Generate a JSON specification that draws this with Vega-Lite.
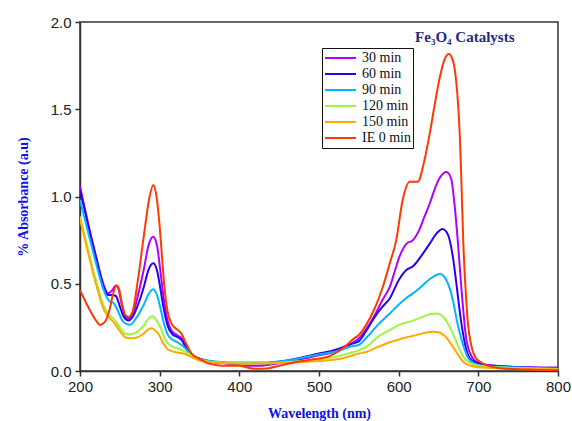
{
  "$schema": "https://vega.github.io/schema/vega-lite/v6.json",
  "autosize": {"type": "none"},
  "padding": {"left": 80, "top": 22, "right": 14, "bottom": 50},
  "width": 478,
  "height": 349,
  "background": "white",
  "config": {
    "view": {"stroke": "#333333", "strokeWidth": 1.5},
    "axis": {"grid": false, "labelFlush": false, "labelOverlap": false, "domainColor": "#333333", "domainWidth": 1.5, "tickColor": "#333333", "tickWidth": 1.5, "tickSize": 5, "labelFont": "Liberation Sans", "labelFontSize": 15, "labelColor": "#222222", "titleFont": "Liberation Serif", "titleFontWeight": "bold", "titleFontSize": 14, "titleColor": "#1010ee"}
  },
  "datasets": {
    "spectra": [
      {"s":"30 min","x":200,"y":1.056},{"s":"30 min","x":210,"y":0.85},{"s":"30 min","x":220,"y":0.66},{"s":"30 min","x":230,"y":0.49},{"s":"30 min","x":235,"y":0.445},{"s":"30 min","x":240,"y":0.46},{"s":"30 min","x":245,"y":0.49},{"s":"30 min","x":248,"y":0.475},{"s":"30 min","x":252,"y":0.39},{"s":"30 min","x":256,"y":0.32},{"s":"30 min","x":261,"y":0.30},{"s":"30 min","x":266,"y":0.32},{"s":"30 min","x":272,"y":0.42},{"s":"30 min","x":280,"y":0.58},{"s":"30 min","x":286,"y":0.72},{"s":"30 min","x":292,"y":0.77},{"s":"30 min","x":297,"y":0.71},{"s":"30 min","x":301,"y":0.57},{"s":"30 min","x":305,"y":0.42},{"s":"30 min","x":310,"y":0.29},{"s":"30 min","x":315,"y":0.23},{"s":"30 min","x":322,"y":0.205},{"s":"30 min","x":328,"y":0.185},{"s":"30 min","x":334,"y":0.13},{"s":"30 min","x":340,"y":0.095},{"s":"30 min","x":350,"y":0.07},{"s":"30 min","x":370,"y":0.05},{"s":"30 min","x":390,"y":0.04},{"s":"30 min","x":410,"y":0.03},{"s":"30 min","x":425,"y":0.03},{"s":"30 min","x":450,"y":0.045},{"s":"30 min","x":475,"y":0.065},{"s":"30 min","x":500,"y":0.09},{"s":"30 min","x":520,"y":0.11},{"s":"30 min","x":540,"y":0.155},{"s":"30 min","x":550,"y":0.186},{"s":"30 min","x":560,"y":0.245},{"s":"30 min","x":570,"y":0.32},{"s":"30 min","x":580,"y":0.41},{"s":"30 min","x":589,"y":0.483},{"s":"30 min","x":595,"y":0.57},{"s":"30 min","x":601,"y":0.655},{"s":"30 min","x":610,"y":0.73},{"s":"30 min","x":618,"y":0.75},{"s":"30 min","x":625,"y":0.8},{"s":"30 min","x":632,"y":0.88},{"s":"30 min","x":639,"y":0.96},{"s":"30 min","x":645,"y":1.04},{"s":"30 min","x":652,"y":1.11},{"s":"30 min","x":660,"y":1.14},{"s":"30 min","x":666,"y":1.1},{"s":"30 min","x":670,"y":0.96},{"s":"30 min","x":675,"y":0.7},{"s":"30 min","x":679,"y":0.46},{"s":"30 min","x":685,"y":0.18},{"s":"30 min","x":692,"y":0.08},{"s":"30 min","x":698,"y":0.053},{"s":"30 min","x":710,"y":0.035},{"s":"30 min","x":740,"y":0.025},{"s":"30 min","x":800,"y":0.018},

      {"s":"60 min","x":200,"y":1.04},{"s":"60 min","x":210,"y":0.84},{"s":"60 min","x":220,"y":0.65},{"s":"60 min","x":230,"y":0.48},{"s":"60 min","x":235,"y":0.435},{"s":"60 min","x":240,"y":0.435},{"s":"60 min","x":245,"y":0.43},{"s":"60 min","x":250,"y":0.37},{"s":"60 min","x":255,"y":0.31},{"s":"60 min","x":261,"y":0.29},{"s":"60 min","x":266,"y":0.31},{"s":"60 min","x":272,"y":0.37},{"s":"60 min","x":280,"y":0.48},{"s":"60 min","x":286,"y":0.58},{"s":"60 min","x":292,"y":0.617},{"s":"60 min","x":297,"y":0.57},{"s":"60 min","x":301,"y":0.47},{"s":"60 min","x":305,"y":0.36},{"s":"60 min","x":310,"y":0.26},{"s":"60 min","x":316,"y":0.21},{"s":"60 min","x":322,"y":0.195},{"s":"60 min","x":328,"y":0.175},{"s":"60 min","x":334,"y":0.125},{"s":"60 min","x":340,"y":0.09},{"s":"60 min","x":350,"y":0.07},{"s":"60 min","x":370,"y":0.05},{"s":"60 min","x":400,"y":0.045},{"s":"60 min","x":430,"y":0.045},{"s":"60 min","x":460,"y":0.06},{"s":"60 min","x":500,"y":0.1},{"s":"60 min","x":520,"y":0.12},{"s":"60 min","x":540,"y":0.155},{"s":"60 min","x":550,"y":0.17},{"s":"60 min","x":560,"y":0.235},{"s":"60 min","x":570,"y":0.31},{"s":"60 min","x":580,"y":0.37},{"s":"60 min","x":589,"y":0.417},{"s":"60 min","x":600,"y":0.52},{"s":"60 min","x":610,"y":0.58},{"s":"60 min","x":618,"y":0.6},{"s":"60 min","x":630,"y":0.67},{"s":"60 min","x":639,"y":0.73},{"s":"60 min","x":648,"y":0.79},{"s":"60 min","x":655,"y":0.814},{"s":"60 min","x":662,"y":0.78},{"s":"60 min","x":668,"y":0.655},{"s":"60 min","x":673,"y":0.48},{"s":"60 min","x":677,"y":0.33},{"s":"60 min","x":685,"y":0.12},{"s":"60 min","x":692,"y":0.06},{"s":"60 min","x":710,"y":0.035},{"s":"60 min","x":740,"y":0.025},{"s":"60 min","x":800,"y":0.018},

      {"s":"90 min","x":200,"y":0.98},{"s":"90 min","x":210,"y":0.8},{"s":"90 min","x":220,"y":0.62},{"s":"90 min","x":230,"y":0.46},{"s":"90 min","x":237,"y":0.4},{"s":"90 min","x":242,"y":0.39},{"s":"90 min","x":247,"y":0.35},{"s":"90 min","x":253,"y":0.29},{"s":"90 min","x":258,"y":0.27},{"s":"90 min","x":263,"y":0.265},{"s":"90 min","x":270,"y":0.30},{"s":"90 min","x":280,"y":0.38},{"s":"90 min","x":286,"y":0.44},{"s":"90 min","x":292,"y":0.468},{"s":"90 min","x":297,"y":0.43},{"s":"90 min","x":301,"y":0.36},{"s":"90 min","x":305,"y":0.28},{"s":"90 min","x":310,"y":0.21},{"s":"90 min","x":316,"y":0.18},{"s":"90 min","x":322,"y":0.165},{"s":"90 min","x":330,"y":0.14},{"s":"90 min","x":340,"y":0.09},{"s":"90 min","x":350,"y":0.07},{"s":"90 min","x":370,"y":0.055},{"s":"90 min","x":400,"y":0.048},{"s":"90 min","x":430,"y":0.048},{"s":"90 min","x":460,"y":0.06},{"s":"90 min","x":500,"y":0.095},{"s":"90 min","x":520,"y":0.11},{"s":"90 min","x":540,"y":0.14},{"s":"90 min","x":550,"y":0.149},{"s":"90 min","x":560,"y":0.193},{"s":"90 min","x":575,"y":0.27},{"s":"90 min","x":589,"y":0.33},{"s":"90 min","x":600,"y":0.38},{"s":"90 min","x":610,"y":0.42},{"s":"90 min","x":618,"y":0.445},{"s":"90 min","x":630,"y":0.49},{"s":"90 min","x":640,"y":0.53},{"s":"90 min","x":652,"y":0.556},{"s":"90 min","x":660,"y":0.52},{"s":"90 min","x":668,"y":0.407},{"s":"90 min","x":673,"y":0.29},{"s":"90 min","x":679,"y":0.178},{"s":"90 min","x":689,"y":0.063},{"s":"90 min","x":700,"y":0.035},{"s":"90 min","x":720,"y":0.025},{"s":"90 min","x":800,"y":0.015},

      {"s":"120 min","x":200,"y":0.885},{"s":"120 min","x":210,"y":0.7},{"s":"120 min","x":220,"y":0.52},{"s":"120 min","x":230,"y":0.37},{"s":"120 min","x":236,"y":0.325},{"s":"120 min","x":242,"y":0.3},{"s":"120 min","x":250,"y":0.25},{"s":"120 min","x":256,"y":0.215},{"s":"120 min","x":262,"y":0.21},{"s":"120 min","x":270,"y":0.22},{"s":"120 min","x":280,"y":0.26},{"s":"120 min","x":286,"y":0.3},{"s":"120 min","x":291,"y":0.315},{"s":"120 min","x":296,"y":0.29},{"s":"120 min","x":301,"y":0.25},{"s":"120 min","x":305,"y":0.2},{"s":"120 min","x":310,"y":0.16},{"s":"120 min","x":316,"y":0.14},{"s":"120 min","x":322,"y":0.13},{"s":"120 min","x":330,"y":0.115},{"s":"120 min","x":340,"y":0.09},{"s":"120 min","x":350,"y":0.065},{"s":"120 min","x":370,"y":0.05},{"s":"120 min","x":400,"y":0.045},{"s":"120 min","x":440,"y":0.045},{"s":"120 min","x":470,"y":0.055},{"s":"120 min","x":500,"y":0.067},{"s":"120 min","x":530,"y":0.092},{"s":"120 min","x":550,"y":0.12},{"s":"120 min","x":560,"y":0.14},{"s":"120 min","x":575,"y":0.2},{"s":"120 min","x":589,"y":0.235},{"s":"120 min","x":600,"y":0.264},{"s":"120 min","x":614,"y":0.283},{"s":"120 min","x":625,"y":0.3},{"s":"120 min","x":640,"y":0.327},{"s":"120 min","x":648,"y":0.33},{"s":"120 min","x":655,"y":0.315},{"s":"120 min","x":662,"y":0.27},{"s":"120 min","x":668,"y":0.216},{"s":"120 min","x":675,"y":0.14},{"s":"120 min","x":681,"y":0.082},{"s":"120 min","x":690,"y":0.045},{"s":"120 min","x":710,"y":0.025},{"s":"120 min","x":800,"y":0.012},

      {"s":"150 min","x":200,"y":0.87},{"s":"150 min","x":210,"y":0.68},{"s":"150 min","x":220,"y":0.5},{"s":"150 min","x":230,"y":0.35},{"s":"150 min","x":236,"y":0.31},{"s":"150 min","x":242,"y":0.28},{"s":"150 min","x":250,"y":0.23},{"s":"150 min","x":258,"y":0.19},{"s":"150 min","x":264,"y":0.187},{"s":"150 min","x":270,"y":0.19},{"s":"150 min","x":280,"y":0.215},{"s":"150 min","x":286,"y":0.24},{"s":"150 min","x":290,"y":0.245},{"s":"150 min","x":295,"y":0.23},{"s":"150 min","x":300,"y":0.2},{"s":"150 min","x":305,"y":0.155},{"s":"150 min","x":310,"y":0.125},{"s":"150 min","x":318,"y":0.11},{"s":"150 min","x":330,"y":0.1},{"s":"150 min","x":340,"y":0.08},{"s":"150 min","x":350,"y":0.06},{"s":"150 min","x":370,"y":0.05},{"s":"150 min","x":400,"y":0.042},{"s":"150 min","x":440,"y":0.045},{"s":"150 min","x":470,"y":0.05},{"s":"150 min","x":500,"y":0.057},{"s":"150 min","x":530,"y":0.073},{"s":"150 min","x":550,"y":0.1},{"s":"150 min","x":560,"y":0.11},{"s":"150 min","x":575,"y":0.14},{"s":"150 min","x":589,"y":0.165},{"s":"150 min","x":600,"y":0.18},{"s":"150 min","x":614,"y":0.197},{"s":"150 min","x":625,"y":0.21},{"s":"150 min","x":643,"y":0.225},{"s":"150 min","x":650,"y":0.222},{"s":"150 min","x":658,"y":0.2},{"s":"150 min","x":668,"y":0.14},{"s":"150 min","x":675,"y":0.09},{"s":"150 min","x":681,"y":0.053},{"s":"150 min","x":690,"y":0.03},{"s":"150 min","x":710,"y":0.018},{"s":"150 min","x":800,"y":0.01},

      {"s":"IE 0 min","x":200,"y":0.464},{"s":"IE 0 min","x":210,"y":0.37},{"s":"IE 0 min","x":220,"y":0.29},{"s":"IE 0 min","x":225,"y":0.264},{"s":"IE 0 min","x":231,"y":0.28},{"s":"IE 0 min","x":237,"y":0.35},{"s":"IE 0 min","x":242,"y":0.45},{"s":"IE 0 min","x":246,"y":0.49},{"s":"IE 0 min","x":249,"y":0.47},{"s":"IE 0 min","x":253,"y":0.38},{"s":"IE 0 min","x":257,"y":0.32},{"s":"IE 0 min","x":261,"y":0.31},{"s":"IE 0 min","x":266,"y":0.34},{"s":"IE 0 min","x":272,"y":0.5},{"s":"IE 0 min","x":280,"y":0.77},{"s":"IE 0 min","x":287,"y":0.99},{"s":"IE 0 min","x":292,"y":1.066},{"s":"IE 0 min","x":296,"y":1.0},{"s":"IE 0 min","x":300,"y":0.83},{"s":"IE 0 min","x":303,"y":0.65},{"s":"IE 0 min","x":306,"y":0.48},{"s":"IE 0 min","x":310,"y":0.34},{"s":"IE 0 min","x":315,"y":0.27},{"s":"IE 0 min","x":320,"y":0.245},{"s":"IE 0 min","x":327,"y":0.216},{"s":"IE 0 min","x":334,"y":0.15},{"s":"IE 0 min","x":340,"y":0.1},{"s":"IE 0 min","x":350,"y":0.07},{"s":"IE 0 min","x":360,"y":0.045},{"s":"IE 0 min","x":370,"y":0.035},{"s":"IE 0 min","x":385,"y":0.03},{"s":"IE 0 min","x":400,"y":0.03},{"s":"IE 0 min","x":410,"y":0.02},{"s":"IE 0 min","x":420,"y":0.013},{"s":"IE 0 min","x":435,"y":0.015},{"s":"IE 0 min","x":450,"y":0.03},{"s":"IE 0 min","x":470,"y":0.05},{"s":"IE 0 min","x":490,"y":0.065},{"s":"IE 0 min","x":510,"y":0.08},{"s":"IE 0 min","x":530,"y":0.13},{"s":"IE 0 min","x":545,"y":0.19},{"s":"IE 0 min","x":550,"y":0.206},{"s":"IE 0 min","x":560,"y":0.27},{"s":"IE 0 min","x":570,"y":0.36},{"s":"IE 0 min","x":580,"y":0.48},{"s":"IE 0 min","x":589,"y":0.62},{"s":"IE 0 min","x":597,"y":0.75},{"s":"IE 0 min","x":605,"y":0.98},{"s":"IE 0 min","x":614,"y":1.085},{"s":"IE 0 min","x":624,"y":1.085},{"s":"IE 0 min","x":632,"y":1.2},{"s":"IE 0 min","x":639,"y":1.36},{"s":"IE 0 min","x":645,"y":1.52},{"s":"IE 0 min","x":652,"y":1.69},{"s":"IE 0 min","x":658,"y":1.79},{"s":"IE 0 min","x":663,"y":1.817},{"s":"IE 0 min","x":668,"y":1.78},{"s":"IE 0 min","x":672,"y":1.67},{"s":"IE 0 min","x":675,"y":1.5},{"s":"IE 0 min","x":677,"y":1.32},{"s":"IE 0 min","x":679,"y":1.05},{"s":"IE 0 min","x":681,"y":0.75},{"s":"IE 0 min","x":684,"y":0.47},{"s":"IE 0 min","x":687,"y":0.27},{"s":"IE 0 min","x":691,"y":0.15},{"s":"IE 0 min","x":696,"y":0.08},{"s":"IE 0 min","x":703,"y":0.05},{"s":"IE 0 min","x":710,"y":0.034},{"s":"IE 0 min","x":730,"y":0.015},{"s":"IE 0 min","x":760,"y":0.008},{"s":"IE 0 min","x":800,"y":0.004}
    ],
    "label": [{"t": "Fe₃O₄ Catalysts", "x": 683, "y": 1.912}]
  },
  "layer": [
    {
      "data": {"name": "spectra"},
      "mark": {"type": "line", "strokeWidth": 2, "interpolate": "monotone", "clip": true},
      "encoding": {
        "x": {"field": "x", "type": "quantitative", "scale": {"domain": [200, 800], "nice": false, "zero": false}, "axis": {"values": [200, 300, 400, 500, 600, 700, 800], "title": "Wavelength (nm)", "titlePadding": 12, "labelPadding": 3}},
        "y": {"field": "y", "type": "quantitative", "scale": {"domain": [0, 2], "nice": false}, "axis": {"values": [0, 0.5, 1, 1.5, 2], "format": ".1f", "title": "% Absorbance (a.u)", "titlePadding": 20, "labelPadding": 4}},
        "color": {"field": "s", "type": "nominal", "scale": {"domain": ["30 min", "60 min", "90 min", "120 min", "150 min", "IE 0 min"], "range": ["#b000ff", "#2a00ee", "#00b4ff", "#9cf540", "#ffaa00", "#ff3a00"]},
          "legend": {"title": null, "orient": "none", "legendX": 242, "legendY": 26, "symbolType": "stroke", "symbolSize": 961, "symbolStrokeWidth": 2, "clipHeight": 16, "rowPadding": 0, "labelFont": "Liberation Serif", "labelFontSize": 14, "labelColor": "#111111", "labelOffset": 5, "padding": 2, "strokeColor": "#111111", "fillColor": "white"}}
      }
    },
    {
      "data": {"name": "label"},
      "mark": {"type": "text", "font": "Liberation Serif", "fontWeight": "bold", "fontSize": 15, "color": "#1f2a80", "align": "center", "baseline": "middle"},
      "encoding": {
        "x": {"field": "x", "type": "quantitative"},
        "y": {"field": "y", "type": "quantitative"},
        "text": {"field": "t"}
      }
    }
  ]
}
